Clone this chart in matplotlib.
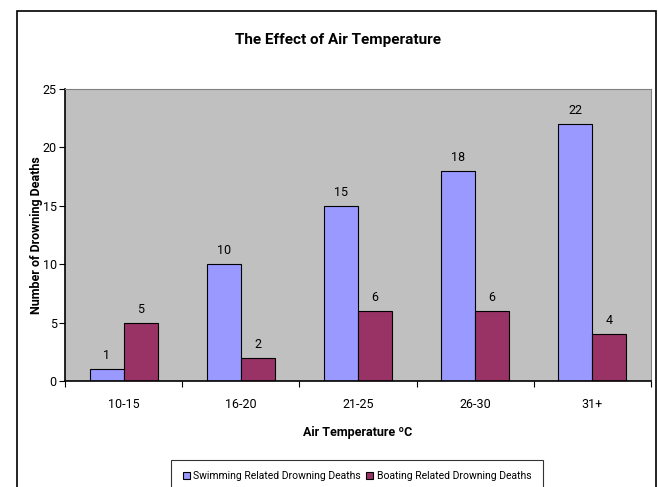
import numpy as np
import matplotlib
matplotlib.use("Agg")
import matplotlib.pyplot as plt
from matplotlib.patches import Rectangle

# data
categories = ["10-15", "16-20", "21-25", "26-30", "31+"]
swimming = [1, 10, 15, 18, 22]
boating = [5, 2, 6, 6, 4]

plt.rcParams['font.family'] = ['Liberation Sans Narrow', 'DejaVu Sans Condensed', 'Roboto', 'DejaVu Sans']

fig = plt.figure(figsize=(6.58, 4.87), dpi=100)
ax = fig.add_axes([65 / 658, 1 - 381 / 487, 586 / 658, 292 / 487])
ax.set_facecolor("#C0C0C0")

x = np.arange(len(categories))
w = 0.29
b1 = ax.bar(x - w / 2, swimming, w, color="#9999FF", edgecolor="black", linewidth=0.8,
            label="Swimming Related Drowning Deaths")
b2 = ax.bar(x + w / 2, boating, w, color="#993366", edgecolor="black", linewidth=0.8,
            label="Boating Related Drowning Deaths")

for bars in (b1, b2):
    for r in bars:
        ax.annotate(str(int(r.get_height())), (r.get_x() + r.get_width() / 2, r.get_height()),
                    xytext=(0, 5), textcoords="offset points", ha="center", va="bottom",
                    fontsize=9)

ax.set_xlim(-0.5, len(categories) - 0.5)
ax.set_ylim(0, 25)
ax.set_yticks(range(0, 26, 5))
ax.set_xticks(np.arange(-0.5, len(categories), 1))
ax.set_xticklabels([])
ax.set_xticks(x, minor=True)
ax.set_xticklabels(categories, minor=True)
ax.tick_params(axis="x", which="minor", length=0, pad=12, labelsize=9)
ax.tick_params(axis="x", which="major", length=4, direction="out")
ax.tick_params(axis="y", length=4, direction="out", labelsize=9, pad=2)

for s in ("top", "right"):
    ax.spines[s].set_color("#808080")
for s in ("left", "bottom"):
    ax.spines[s].set_color("black")
    ax.spines[s].set_linewidth(1.2)

ax.set_xlabel("Air Temperature ºC", fontsize=9, fontweight="bold")
ax.xaxis.set_label_coords(0.5, -(426 - 381) / 292)
ax.set_ylabel("Number of Drowning Deaths", fontsize=9, fontweight="bold")
ax.yaxis.set_label_coords(-(65 - 43) / 586, 0.5)
fig.text(338 / 658, 1 - 40 / 487, "The Effect of Air Temperature", ha="center", va="center",
         fontsize=11, fontweight="bold")

leg = fig.legend(loc="upper center", bbox_to_anchor=(357 / 658, 1 - 460 / 487), ncol=2,
                 fontsize=7.5, frameon=True, fancybox=False, edgecolor="black",
                 handlelength=0.7, handleheight=0.7, handletextpad=0.3, columnspacing=0.5,
                 borderpad=1.1, borderaxespad=0)
leg.get_frame().set_linewidth(0.8)

# outer chart border (cut off at the bottom in the original)
fig.patches.append(Rectangle((17 / 658, -0.05), 639 / 658, 1.05 - 11 / 487,
                             transform=fig.transFigure, fill=False, edgecolor="black",
                             linewidth=1.2, clip_on=False))

fig.savefig("out.png", dpi=100)
